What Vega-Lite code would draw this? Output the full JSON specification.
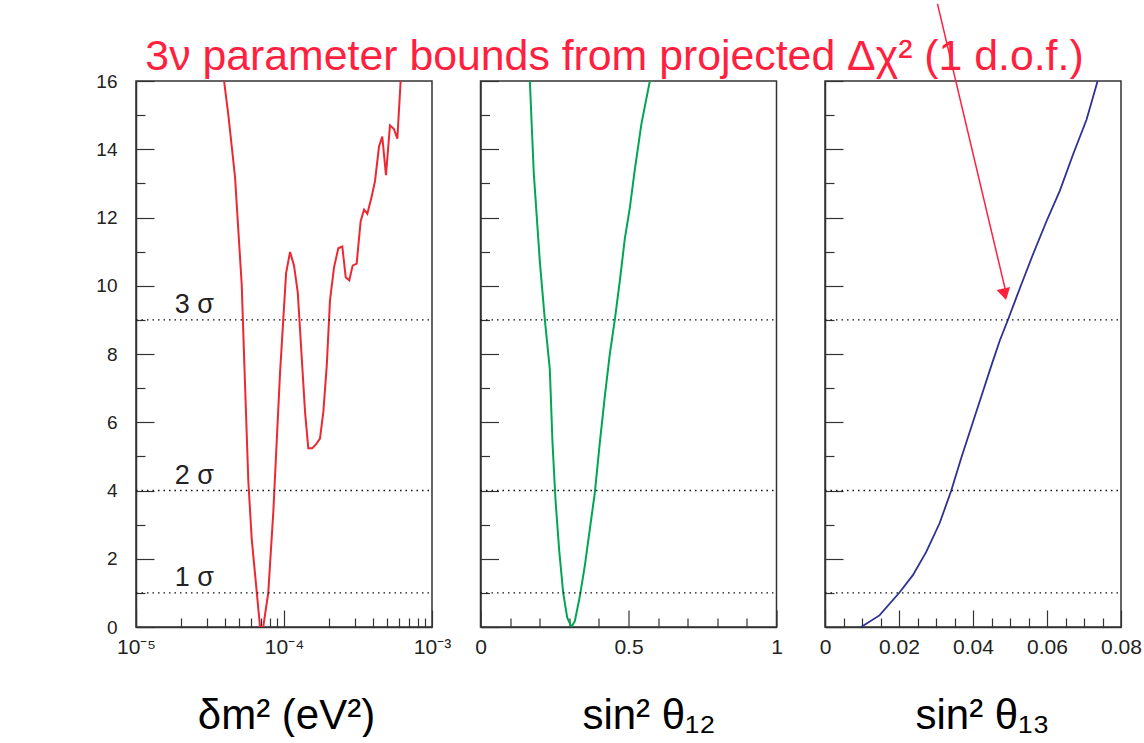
{
  "$schema": "https://vega.github.io/schema/vega-lite/v6.json",
  "background": "white",
  "padding": {"left": 95, "top": 0, "right": 0, "bottom": 0},
  "spacing": 48.5,
  "bounds": "flush",
  "datasets": {
    "dm2": [
      {"dm2": 3.7e-5, "chi2": 17},
      {"dm2": 3.936e-5, "chi2": 16},
      {"dm2": 4.21e-5, "chi2": 14.99},
      {"dm2": 4.67e-5, "chi2": 13.18},
      {"dm2": 5.18e-5, "chi2": 10.03},
      {"dm2": 5.40e-5, "chi2": 7.66},
      {"dm2": 5.74e-5, "chi2": 4.28},
      {"dm2": 6.05e-5, "chi2": 2.59},
      {"dm2": 6.55e-5, "chi2": 1.01},
      {"dm2": 6.89e-5, "chi2": 0},
      {"dm2": 7.24e-5, "chi2": 0},
      {"dm2": 7.83e-5, "chi2": 1.01},
      {"dm2": 8.47e-5, "chi2": 3.38},
      {"dm2": 9.40e-5, "chi2": 7.44},
      {"dm2": 1.033e-4, "chi2": 10.37},
      {"dm2": 1.099e-4, "chi2": 10.99},
      {"dm2": 1.169e-4, "chi2": 10.59},
      {"dm2": 1.239e-4, "chi2": 9.80},
      {"dm2": 1.318e-4, "chi2": 7.89},
      {"dm2": 1.387e-4, "chi2": 6.31},
      {"dm2": 1.459e-4, "chi2": 5.24},
      {"dm2": 1.552e-4, "chi2": 5.24},
      {"dm2": 1.644e-4, "chi2": 5.35},
      {"dm2": 1.750e-4, "chi2": 5.52},
      {"dm2": 1.845e-4, "chi2": 6.31},
      {"dm2": 1.945e-4, "chi2": 7.66},
      {"dm2": 2.046e-4, "chi2": 9.58},
      {"dm2": 2.178e-4, "chi2": 10.54},
      {"dm2": 2.328e-4, "chi2": 11.10},
      {"dm2": 2.477e-4, "chi2": 11.15},
      {"dm2": 2.612e-4, "chi2": 10.25},
      {"dm2": 2.761e-4, "chi2": 10.16},
      {"dm2": 2.911e-4, "chi2": 10.59},
      {"dm2": 3.097e-4, "chi2": 10.65},
      {"dm2": 3.296e-4, "chi2": 11.89},
      {"dm2": 3.475e-4, "chi2": 12.23},
      {"dm2": 3.656e-4, "chi2": 12.11},
      {"dm2": 3.917e-4, "chi2": 12.62},
      {"dm2": 4.121e-4, "chi2": 13.07},
      {"dm2": 4.385e-4, "chi2": 14.08},
      {"dm2": 4.613e-4, "chi2": 14.37},
      {"dm2": 4.887e-4, "chi2": 13.24},
      {"dm2": 5.200e-4, "chi2": 14.70},
      {"dm2": 5.534e-4, "chi2": 14.59},
      {"dm2": 5.834e-4, "chi2": 14.31},
      {"dm2": 6.138e-4, "chi2": 16},
      {"dm2": 6.339e-4, "chi2": 17.35}
    ],
    "s12": [
      {"s12": 0.163, "chi2": 16.7},
      {"s12": 0.1667, "chi2": 16},
      {"s12": 0.180, "chi2": 13.30},
      {"s12": 0.2005, "chi2": 10.70},
      {"s12": 0.2173, "chi2": 9.01},
      {"s12": 0.2342, "chi2": 7.55},
      {"s12": 0.2432, "chi2": 5.41},
      {"s12": 0.2534, "chi2": 3.72},
      {"s12": 0.2658, "chi2": 2.25},
      {"s12": 0.2793, "chi2": 1.01},
      {"s12": 0.2928, "chi2": 0.28},
      {"s12": 0.3074, "chi2": 0.0},
      {"s12": 0.3187, "chi2": 0.17},
      {"s12": 0.3356, "chi2": 0.90},
      {"s12": 0.3525, "chi2": 1.80},
      {"s12": 0.3694, "chi2": 2.87},
      {"s12": 0.3863, "chi2": 3.94},
      {"s12": 0.4032, "chi2": 5.41},
      {"s12": 0.4200, "chi2": 6.76},
      {"s12": 0.4369, "chi2": 8.00},
      {"s12": 0.4538, "chi2": 9.01},
      {"s12": 0.4707, "chi2": 10.14},
      {"s12": 0.4876, "chi2": 11.38},
      {"s12": 0.5045, "chi2": 12.28},
      {"s12": 0.5214, "chi2": 13.41},
      {"s12": 0.5439, "chi2": 14.76},
      {"s12": 0.5721, "chi2": 16},
      {"s12": 0.583, "chi2": 16.56}
    ],
    "s13": [
      {"s13": 0.00975, "chi2": 0},
      {"s13": 0.01472, "chi2": 0.34},
      {"s13": 0.02013, "chi2": 1.01},
      {"s13": 0.02375, "chi2": 1.52},
      {"s13": 0.02736, "chi2": 2.20},
      {"s13": 0.03097, "chi2": 3.04},
      {"s13": 0.03413, "chi2": 4.0},
      {"s13": 0.03684, "chi2": 4.96},
      {"s13": 0.03955, "chi2": 5.86},
      {"s13": 0.04226, "chi2": 6.76},
      {"s13": 0.04496, "chi2": 7.66},
      {"s13": 0.04722, "chi2": 8.39},
      {"s13": 0.04948, "chi2": 9.01},
      {"s13": 0.05264, "chi2": 9.92},
      {"s13": 0.05625, "chi2": 10.93},
      {"s13": 0.05986, "chi2": 11.89},
      {"s13": 0.06348, "chi2": 12.79},
      {"s13": 0.06709, "chi2": 13.86},
      {"s13": 0.07070, "chi2": 14.87},
      {"s13": 0.07368, "chi2": 16},
      {"s13": 0.0748, "chi2": 16.34}
    ],
    "sigma": [
      {"level": 1, "label": "1 σ"},
      {"level": 4, "label": "2 σ"},
      {"level": 9, "label": "3 σ"}
    ],
    "title": [
      {"text": "3ν parameter bounds from projected Δχ² (1 d.o.f.)"}
    ],
    "arrow": [
      {"s13": 0.0304, "chi2": 18.26},
      {"s13": 0.0487, "chi2": 9.9}
    ],
    "arrowhead": [
      {"s13": 0.04857, "chi2": 9.75}
    ]
  },
  "hconcat": [
    {
      "width": 296,
      "height": 546,
      "resolve": {"axis": {"x": "independent", "y": "independent"}},
      "layer": [
        {
          "data": {"name": "dm2"},
          "mark": {"type": "line", "color": "#ec2833", "strokeWidth": 2, "clip": true},
          "encoding": {
            "x": {"field": "dm2", "type": "quantitative",
              "scale": {"type": "log", "domain": [1e-5, 1e-3], "nice": false},
              "axis": {"orient": "bottom", "values": [1e-5, 1e-4, 1e-3], "tickSize": -17, "labelPadding": 26, "labelFontSize": 21,
                "labelExpr": "datum.value < 3e-5 ? '10⁻⁵' : datum.value < 3e-4 ? '10⁻⁴' : '10⁻³'",
                "labelFlush": false, "labelOverlap": false, "labelBound": false, "title": null}},
            "y": {"field": "chi2", "type": "quantitative",
              "scale": {"domain": [0, 16], "nice": false, "zero": false},
              "axis": {"orient": "left", "values": [0, 2, 4, 6, 8, 10, 12, 14, 16], "tickSize": -18, "labelPadding": 37, "labelFontSize": 19,
                "labelFlush": false, "labelOverlap": false, "title": null}}
          }
        },
        {
          "data": {"name": "sigma"},
          "mark": {"type": "rule", "color": "#111", "strokeWidth": 1.3, "strokeDash": [1.5, 4]},
          "encoding": {
            "y": {"field": "level", "type": "quantitative",
              "scale": {"domain": [0, 16], "nice": false, "zero": false},
              "axis": {"orient": "left", "values": [1, 3, 5, 7, 9, 11, 13, 15], "tickSize": -9, "labels": false, "domain": false, "title": null}},
            "x": {"datum": 1e-5, "type": "quantitative",
              "scale": {"type": "log", "domain": [1e-5, 1e-3], "nice": false},
              "axis": {"orient": "bottom", "values": [2e-5, 3e-5, 4e-5, 5e-5, 6e-5, 7e-5, 8e-5, 9e-5, 2e-4, 3e-4, 4e-4, 5e-4, 6e-4, 7e-4, 8e-4, 9e-4],
                "tickSize": -9, "labels": false, "domain": false,
                "title": "δm² (eV²)", "titleFontSize": 42, "titleY": 101, "titleX": 150, "titleBaseline": "alphabetic", "titleAlign": "center"}},
            "x2": {"datum": 1e-3}
          }
        },
        {
          "data": {"name": "sigma"},
          "mark": {"type": "text", "align": "left", "baseline": "alphabetic", "dy": -7, "fontSize": 27, "color": "#222"},
          "encoding": {
            "x": {"datum": 1.83e-5, "type": "quantitative", "axis": null},
            "y": {"field": "level", "type": "quantitative", "axis": null},
            "text": {"field": "label"}
          }
        }
      ]
    },
    {
      "width": 296,
      "height": 546,
      "resolve": {"axis": {"x": "independent", "y": "independent"}},
      "layer": [
        {
          "data": {"name": "s12"},
          "mark": {"type": "line", "color": "#00a651", "strokeWidth": 2, "clip": true},
          "encoding": {
            "x": {"field": "s12", "type": "quantitative",
              "scale": {"domain": [0, 1], "nice": false},
              "axis": {"orient": "bottom", "values": [0, 0.5, 1], "tickSize": -17, "labelPadding": 26, "labelFontSize": 21, "format": "~g",
                "labelFlush": false, "labelOverlap": false, "labelBound": false, "title": null}},
            "y": {"field": "chi2", "type": "quantitative",
              "scale": {"domain": [0, 16], "nice": false, "zero": false},
              "axis": {"orient": "left", "values": [0, 2, 4, 6, 8, 10, 12, 14, 16], "tickSize": -18, "labels": false, "title": null}}
          }
        },
        {
          "data": {"name": "sigma"},
          "mark": {"type": "rule", "color": "#111", "strokeWidth": 1.3, "strokeDash": [1.5, 4]},
          "encoding": {
            "y": {"field": "level", "type": "quantitative",
              "scale": {"domain": [0, 16], "nice": false, "zero": false},
              "axis": {"orient": "left", "values": [1, 3, 5, 7, 9, 11, 13, 15], "tickSize": -9, "labels": false, "domain": false, "title": null}},
            "x": {"datum": 0, "type": "quantitative",
              "scale": {"domain": [0, 1], "nice": false},
              "axis": {"orient": "bottom", "values": [0.1, 0.2, 0.3, 0.4, 0.6, 0.7, 0.8, 0.9],
                "tickSize": -9, "labels": false, "domain": false,
                "title": "sin² θ₁₂", "titleFontSize": 42, "titleY": 101, "titleX": 168, "titleBaseline": "alphabetic", "titleAlign": "center"}},
            "x2": {"datum": 1}
          }
        },
        {
          "data": {"name": "title"},
          "mark": {"type": "text", "align": "center", "baseline": "alphabetic", "fontSize": 42.8, "color": "#ff1f3f"},
          "encoding": {
            "x": {"datum": 0.4527, "type": "quantitative", "axis": null},
            "y": {"datum": 16.32, "type": "quantitative", "axis": null},
            "text": {"field": "text"}
          }
        }
      ]
    },
    {
      "width": 296,
      "height": 546,
      "resolve": {"axis": {"x": "independent", "y": "independent"}},
      "layer": [
        {
          "data": {"name": "s13"},
          "mark": {"type": "line", "color": "#2e3192", "strokeWidth": 1.8, "clip": true},
          "encoding": {
            "x": {"field": "s13", "type": "quantitative",
              "scale": {"domain": [0, 0.08], "nice": false},
              "axis": {"orient": "bottom", "values": [0, 0.02, 0.04, 0.06, 0.08], "tickSize": -17, "labelPadding": 26, "labelFontSize": 21, "format": "~g",
                "labelFlush": false, "labelOverlap": false, "labelBound": false, "title": null}},
            "y": {"field": "chi2", "type": "quantitative",
              "scale": {"domain": [0, 16], "nice": false, "zero": false},
              "axis": {"orient": "left", "values": [0, 2, 4, 6, 8, 10, 12, 14, 16], "tickSize": -18, "labels": false, "title": null}}
          }
        },
        {
          "data": {"name": "sigma"},
          "mark": {"type": "rule", "color": "#111", "strokeWidth": 1.3, "strokeDash": [1.5, 4]},
          "encoding": {
            "y": {"field": "level", "type": "quantitative",
              "scale": {"domain": [0, 16], "nice": false, "zero": false},
              "axis": {"orient": "left", "values": [1, 3, 5, 7, 9, 11, 13, 15], "tickSize": -9, "labels": false, "domain": false, "title": null}},
            "x": {"datum": 0, "type": "quantitative",
              "scale": {"domain": [0, 0.08], "nice": false},
              "axis": {"orient": "bottom", "values": [0.005, 0.01, 0.015, 0.025, 0.03, 0.035, 0.045, 0.05, 0.055, 0.065, 0.07, 0.075],
                "tickSize": -9, "labels": false, "domain": false,
                "title": "sin² θ₁₃", "titleFontSize": 42, "titleY": 101, "titleX": 157, "titleBaseline": "alphabetic", "titleAlign": "center"}},
            "x2": {"datum": 0.08}
          }
        },
        {
          "data": {"name": "arrow"},
          "mark": {"type": "line", "color": "#ff1f3f", "strokeWidth": 1.5, "clip": false},
          "encoding": {
            "x": {"field": "s13", "type": "quantitative", "axis": null},
            "y": {"field": "chi2", "type": "quantitative", "axis": null}
          }
        },
        {
          "data": {"name": "arrowhead"},
          "mark": {"type": "point", "shape": "triangle-down", "filled": true, "size": 190, "angle": -13, "color": "#ff1f3f", "opacity": 1},
          "encoding": {
            "x": {"field": "s13", "type": "quantitative", "axis": null},
            "y": {"field": "chi2", "type": "quantitative", "axis": null}
          }
        }
      ]
    }
  ],
  "config": {
    "view": {"stroke": "#333", "strokeWidth": 1.5},
    "axis": {"grid": false, "domainColor": "#333", "domainWidth": 1.5, "tickColor": "#333", "tickWidth": 1.2,
      "labelFont": "Liberation Sans", "labelColor": "#222", "titleFont": "Liberation Sans", "titleFontWeight": "normal", "titleColor": "#000"},
    "text": {"font": "Liberation Sans"}
  }
}
